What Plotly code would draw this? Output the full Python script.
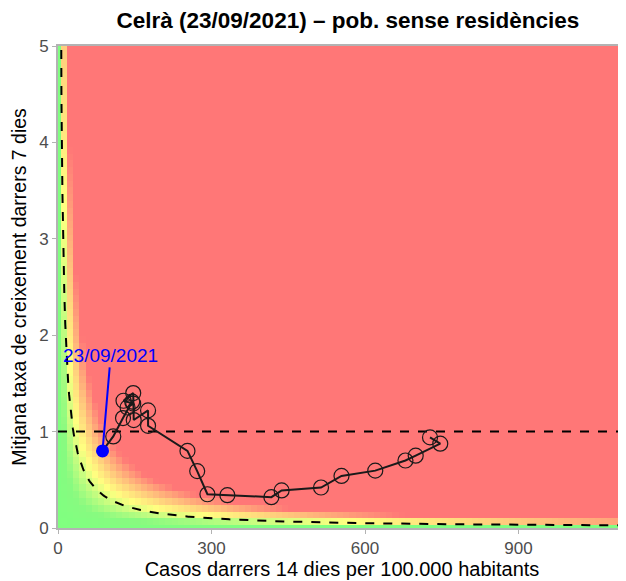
import numpy as np
import plotly.graph_objects as go

# trajectory, oldest -> newest (cases per 100k over 14 days, mean growth rate 7 days)
casos = [727, 747, 699, 679, 620, 554, 514, 437, 417, 331, 292, 272, 253,
         176, 176, 148, 147, 128, 147, 136, 145, 127, 108, 87]
taxa = [0.94, 0.875, 0.75, 0.70, 0.595, 0.54, 0.42, 0.39, 0.32, 0.34, 0.35, 0.59, 0.80,
        1.06, 1.22, 1.12, 1.40, 1.32, 1.29, 1.25, 1.31, 1.14, 0.95, 0.80]
last_label = "23/09/2021"
label_pos = [103, 1.79]
threshold = 30

title = "<b>Celrà (23/09/2021) – pob. sense residències</b>"
x_title = "Casos darrers 14 dies per 100.000 habitants"
y_title = "Mitjana taxa de creixement darrers 7 dies"

# background risk grid (product of both axes)
gx = np.arange(0, 1130, 12)
gy = np.arange(0, 5.1, 0.07)
gz = np.outer(gy, gx)

fig = go.Figure()
fig.add_trace(go.Heatmap(
    x=gx, y=gy, z=gz, zmin=0, zmax=95,
    colorscale=[[0, "#80FF80"], [0.12, "#88FA80"], [0.42, "#FFFF80"], [1, "#FF7777"]],
    showscale=False, hoverinfo="skip"))

cx = np.linspace(3, 1120, 600)
fig.add_trace(go.Scatter(x=cx, y=threshold / cx, mode="lines",
                         line=dict(color="black", width=2, dash="dash"), hoverinfo="skip"))
fig.add_trace(go.Scatter(x=[0, 1120], y=[1, 1], mode="lines",
                         line=dict(color="black", width=2, dash="dash"), hoverinfo="skip"))

fig.add_trace(go.Scatter(x=casos, y=taxa, mode="lines",
                         line=dict(color="#1a1a1a", width=2)))
fig.add_trace(go.Scatter(x=casos[:-1], y=taxa[:-1], mode="markers",
                         marker=dict(symbol="circle-open", size=15, color="#1a1a1a",
                                     line=dict(width=1.2))))
fig.add_trace(go.Scatter(x=casos[-1:], y=taxa[-1:], mode="markers",
                         marker=dict(size=13, color="blue")))

fig.add_annotation(x=casos[-1], y=taxa[-1], ax=label_pos[0], ay=label_pos[1],
                   axref="x", ayref="y", text=last_label, showarrow=True,
                   arrowhead=0, arrowwidth=2, arrowcolor="blue",
                   font=dict(color="blue", size=19))

fig.update_layout(
    width=618, height=573, showlegend=False,
    margin=dict(l=50, r=0, t=38, b=53),
    paper_bgcolor="white", plot_bgcolor="white",
    font=dict(family="Liberation Sans, Arial", size=17, color="#4d4d4d"),
    title=dict(text=title, x=0.55, xanchor="center", y=0.978, yanchor="middle",
               font=dict(size=22.5, color="black")),
    xaxis=dict(range=[0, 1110], tickvals=[0, 300, 600, 900], showgrid=False, zeroline=False,
               showline=True, linecolor="#b3b3b3", linewidth=2, mirror=True,
               ticks="outside", ticklen=4, tickcolor="#b3b3b3", automargin=False,
               title=dict(text=x_title, font=dict(size=20, color="black"), standoff=1)),
    yaxis=dict(range=[0, 5], tickvals=[0, 1, 2, 3, 4, 5], showgrid=False, zeroline=False,
               showline=True, linecolor="#b3b3b3", linewidth=2, mirror=True,
               ticks="outside", ticklen=4, tickcolor="#b3b3b3", automargin=False,
               title=dict(text=y_title, font=dict(size=19.5, color="black"), standoff=7)),
)

fig.write_html("out.html")
